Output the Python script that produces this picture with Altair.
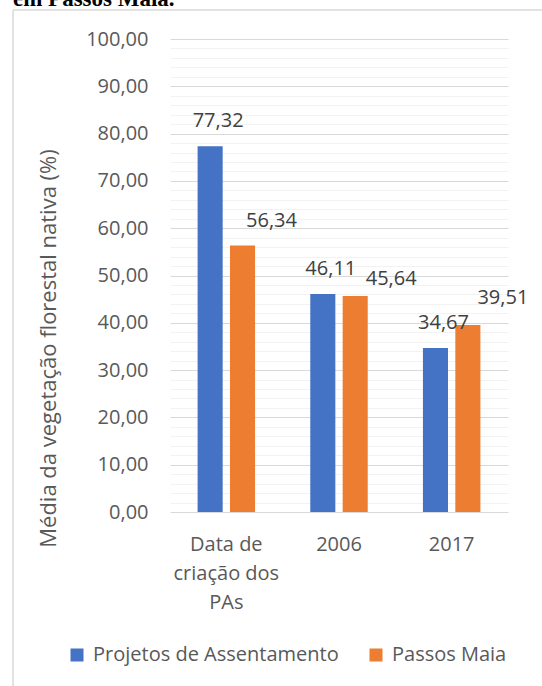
import altair as alt
import pandas as pd

# Average native forest cover, settlement projects vs. the whole municipality
categories = ["Data de criação dos PAs", "2006", "2017"]
series = ["Projetos de Assentamento", "Passos Maia"]
projetos = [77.32, 46.11, 34.67]
passos_maia = [56.34, 45.64, 39.51]
y_ticks = list(range(0, 101, 2))

colors = ["#4472C4", "#ED7D31"]
FONT = "Open Sans"
GREY = "#595959"

rows = []
for cat, a, b in zip(categories, projetos, passos_maia):
    rows.append({"periodo": cat, "serie": series[0], "valor": a})
    rows.append({"periodo": cat, "serie": series[1], "valor": b})
df = pd.DataFrame(rows)

comma_fmt = "replace(format({v}, '.2f'), '.', ',')"

x_enc = alt.X(
    "periodo:N",
    sort=categories,
    scale=alt.Scale(paddingInner=0.49, paddingOuter=0.245),
    axis=alt.Axis(
        title=None,
        domain=False,
        ticks=False,
        labelAngle=0,
        labelFont=FONT,
        labelFontSize=20,
        labelColor=GREY,
        labelPadding=38,
        labelBaseline="alphabetic",
        labelLineHeight=29,
        labelExpr="datum.value == 'Data de criação dos PAs' ? ['Data de', 'criação dos', 'PAs'] : datum.label",
    ),
)
xo_enc = alt.XOffset("serie:N", sort=series, scale=alt.Scale(paddingInner=0.226, paddingOuter=0))
y_enc = alt.Y(
    "valor:Q",
    scale=alt.Scale(domain=[0, 100], nice=False),
    axis=alt.Axis(
        values=y_ticks,
        domain=False,
        ticks=False,
        gridColor={"condition": {"test": "datum.value % 10 === 0", "value": "#D9D9D9"}, "value": "#F2F2F2"},
        gridWidth=1,
        labelExpr="datum.value % 10 === 0 ? " + comma_fmt.format(v="datum.value") + " : ''",
        labelOverlap=False,
        labelFont=FONT,
        labelFontSize=20,
        labelColor=GREY,
        labelPadding=22,
        title="Média da vegetação florestal nativa (%)",
        titleFont=FONT,
        titleFontSize=22,
        titleFontWeight="normal",
        titleColor=GREY,
        titleAngle=270,
        titleBaseline="alphabetic",
        titleAlign="center",
        titleX=-115,
        titleY=309,
    ),
)

base = alt.Chart(df).transform_calculate(label=comma_fmt.format(v="datum.valor"))

bars = base.mark_bar().encode(
    x=x_enc,
    xOffset=xo_enc,
    y=y_enc,
    color=alt.Color(
        "serie:N",
        sort=series,
        scale=alt.Scale(domain=series, range=colors),
        legend=alt.Legend(
            title=None,
            orient="none",
            legendX=-103,
            legendY=606,
            direction="horizontal",
            symbolType="square",
            symbolSize=169,
            symbolStrokeWidth=0,
            labelFont=FONT,
            labelFontSize=20,
            labelColor=GREY,
            labelOffset=6,
            labelLimit=400,
            columnPadding=27,
            padding=0,
        ),
    ),
)


def value_labels(serie, cats, dx, dy):
    """Data labels for one series over the given periods."""
    return (
        base.transform_filter(alt.FieldEqualPredicate(field="serie", equal=serie))
        .transform_filter(alt.FieldOneOfPredicate(field="periodo", oneOf=cats))
        .mark_text(
            font=FONT,
            fontSize=20,
            color="#404040",
            baseline="alphabetic",
            dx=dx,
            dy=dy,
        )
        .encode(x=x_enc, xOffset=xo_enc, y=y_enc, text="label:N")
    )


labels = [
    value_labels(series[0], categories, 8, -19),
    value_labels(series[1], categories[:1], 29, -19),
    value_labels(series[1], categories[1:2], 36, -11),
    value_labels(series[1], categories[2:], 35, -21),
]

one = alt.Data(values=[{}])

# Frame around the figure and the caption line above it
frame_top = alt.Chart(one).mark_rule(color="#D9D9D9", strokeWidth=1.5).encode(
    x=alt.value(-157), x2=alt.value(372), y=alt.value(-29)
)
frame_left = alt.Chart(one).mark_rule(color="#D9D9D9", strokeWidth=1.5).encode(
    x=alt.value(-157), y=alt.value(-29), y2=alt.value(647)
)
caption = alt.Chart(one).mark_text(
    text="em Passos Maia.",
    font="Liberation Serif",
    fontWeight="bold",
    fontSize=23,
    align="left",
    baseline="alphabetic",
    color="black",
).encode(x=alt.value(-157), y=alt.value(-33))

chart = (
    alt.layer(frame_top, frame_left, caption, bars, *labels)
    .properties(
        width=338,
        height=473,
        padding={"left": 170, "top": 39, "right": 34, "bottom": 174},
        autosize=alt.AutoSizeParams(type="none"),
        background="white",
    )
    .configure_view(strokeWidth=0)
)

chart.save("out.html", embed_options={"renderer": "svg", "actions": False})
